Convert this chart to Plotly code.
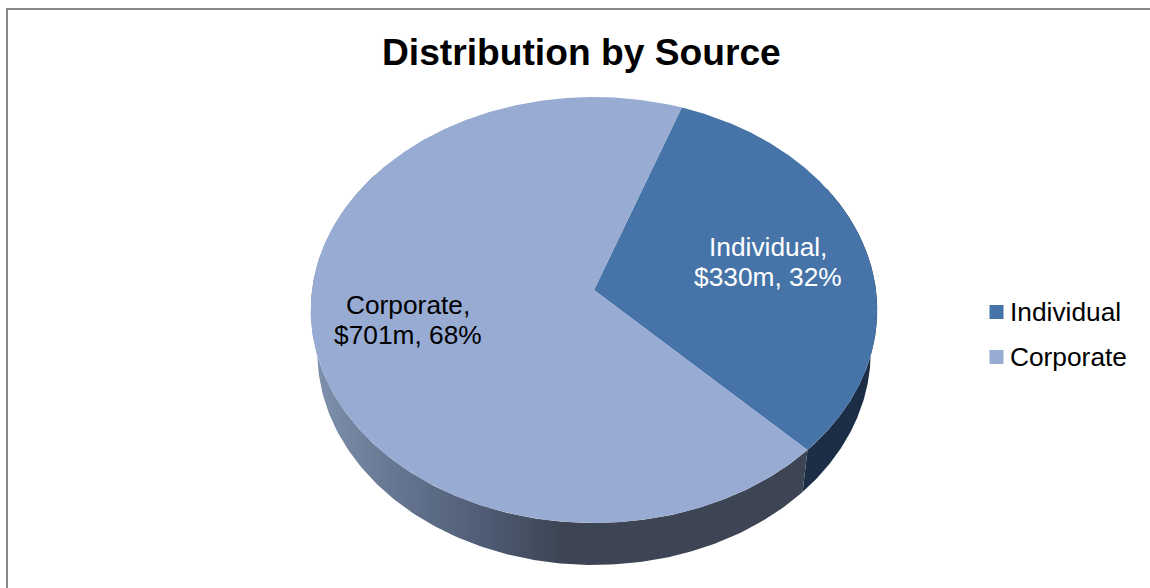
import numpy as np
import plotly.graph_objects as go

# Source data
categories = ["Individual", "Corporate"]
amounts = [330, 701]
top_colors = ["#4674A9", "#98ABD2"]
wall_colors = ["#1B2E46", "#3D4554"]
wall_ramp = [[0.0, "#7F90AD"], [0.3, "#64748F"], [0.6, "#4E5B73"], [0.87, "#3D4554"], [1.0, "#3D4554"]]

TITLE = "Distribution by Source"
FONT = "Liberation Sans"

# Tilted-disc projection, in page pixels
CX, CY, RX, RY, PERSP = 594.0, 290.0, 282.0, 211.1, 0.0939
BASE_CY, BASE_RX = 332.0, 275.5
FIRST_ANGLE = 19.8


def rim(deg, cy=CY, rx=RX):
    """Project clockwise-from-north angles on the unit circle to page pixels."""
    t = np.radians(deg)
    x, y = np.sin(t), np.cos(t)
    d = 1 + PERSP * y
    return CX + rx * x / d, cy - RY * y / d


total = sum(amounts)
shares = [a / total for a in amounts]
edges = FIRST_ANGLE + 360 * np.concatenate([[0], np.cumsum(shares)])

fig = go.Figure()

# Side walls first, so the top face covers their hidden parts
spans = [(edges[0] + 40, edges[1]), (edges[1], edges[1] + 170)]
for i, (a, b) in enumerate(spans):
    t = np.linspace(a, b, 200)
    xt, yt = rim(t)
    xb, yb = rim(t[::-1], BASE_CY, BASE_RX)
    style = dict(fillcolor=wall_colors[i])
    if categories[i] == "Corporate":
        style = dict(fillgradient=dict(type="horizontal", colorscale=wall_ramp, start=317, stop=600))
    fig.add_trace(go.Scatter(
        x=np.r_[xt, xb], y=np.r_[yt, yb], mode="lines", fill="toself",
        line=dict(width=0, color=wall_colors[i]), hoverinfo="skip", showlegend=False, **style,
    ))

# Top face slices
for i in range(len(categories)):
    t = np.linspace(edges[i], edges[i + 1], 400)
    xt, yt = rim(t)
    fig.add_trace(go.Scatter(
        x=np.r_[CX, xt, CX], y=np.r_[CY, yt, CY], mode="lines", fill="toself",
        fillcolor=top_colors[i], line=dict(width=0, color=top_colors[i]),
        hoverinfo="skip", showlegend=False,
    ))

annotations = []


def text(x, y, s, size, color="#000000", anchor="center", bold=False):
    annotations.append(dict(
        x=x, y=y, xref="x", yref="y", text=f"<b>{s}</b>" if bold else s, showarrow=False,
        xanchor=anchor, yanchor="middle",
        font=dict(family=FONT, size=size, color=color),
    ))


text(581, 52, TITLE, 37.2, bold=True)

# Slice labels, two lines each
label_spots = [(768, 247, "#FFFFFF"), (408, 305, "#000000")]
for name, amount, share, (lx, ly, col) in zip(categories, amounts, shares, label_spots):
    text(lx, ly, f"{name},", 26.3, col)
    text(lx, ly + 30, f"${amount}m, {share * 100:.0f}%", 26.3, col)

# Key at the right
key_rows = [312, 357]
for name, col, ky in zip(categories, top_colors, key_rows):
    fig.add_trace(go.Scatter(
        x=[996.5], y=[ky], mode="markers", hoverinfo="skip", showlegend=False,
        marker=dict(symbol="square", size=14, color=col),
    ))
    text(1008, ky, name, 26.3, anchor="left")

fig.update_layout(
    width=1150, height=588, autosize=False,
    margin=dict(l=0, r=0, t=0, b=0),
    paper_bgcolor="#FFFFFF", plot_bgcolor="#FFFFFF",
    xaxis=dict(range=[0, 1150], visible=False, fixedrange=True),
    yaxis=dict(range=[588, 0], visible=False, fixedrange=True),
    annotations=annotations,
    shapes=[dict(type="rect", xref="x", yref="y", x0=7, y0=9, x1=1300, y1=800,
                 line=dict(color="#888888", width=2), layer="below")],
)

fig.write_html("out.html", config={"displayModeBar": False})
